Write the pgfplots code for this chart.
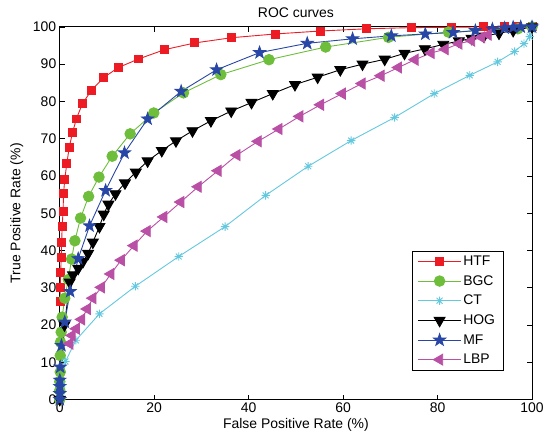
\documentclass[border=0pt]{standalone}
\usepackage{fontspec}
\setmainfont{Liberation Sans}
\usepackage{pgfplots}
\pgfplotsset{compat=1.18}

\definecolor{htf}{RGB}{237,28,36}
\definecolor{bgc}{RGB}{110,190,60}
\definecolor{ct}{RGB}{100,200,222}
\definecolor{mf}{RGB}{40,70,165}
\definecolor{lbp}{RGB}{185,80,165}

% filled five-point star, like MATLAB's pentagram
\pgfdeclareplotmark{fstar}{%
  \pgfpathmoveto{\pgfpointpolar{90}{\pgfplotmarksize}}%
  \pgfpathlineto{\pgfpointpolar{126}{0.4\pgfplotmarksize}}%
  \pgfpathlineto{\pgfpointpolar{162}{\pgfplotmarksize}}%
  \pgfpathlineto{\pgfpointpolar{198}{0.4\pgfplotmarksize}}%
  \pgfpathlineto{\pgfpointpolar{234}{\pgfplotmarksize}}%
  \pgfpathlineto{\pgfpointpolar{270}{0.4\pgfplotmarksize}}%
  \pgfpathlineto{\pgfpointpolar{306}{\pgfplotmarksize}}%
  \pgfpathlineto{\pgfpointpolar{342}{0.4\pgfplotmarksize}}%
  \pgfpathlineto{\pgfpointpolar{18}{\pgfplotmarksize}}%
  \pgfpathlineto{\pgfpointpolar{54}{0.4\pgfplotmarksize}}%
  \pgfpathclose
  \pgfusepathqfillstroke
}
% eight-ray asterisk, like MATLAB's '*'
\pgfdeclareplotmark{star8}{%
  \pgfpathmoveto{\pgfqpoint{-\pgfplotmarksize}{0pt}}\pgfpathlineto{\pgfqpoint{\pgfplotmarksize}{0pt}}%
  \pgfpathmoveto{\pgfqpoint{0pt}{-\pgfplotmarksize}}\pgfpathlineto{\pgfqpoint{0pt}{\pgfplotmarksize}}%
  \pgfpathmoveto{\pgfpointpolar{45}{\pgfplotmarksize}}\pgfpathlineto{\pgfpointpolar{225}{\pgfplotmarksize}}%
  \pgfpathmoveto{\pgfpointpolar{135}{\pgfplotmarksize}}\pgfpathlineto{\pgfpointpolar{315}{\pgfplotmarksize}}%
  \pgfusepathqstroke
}

\newcommand{\lblfont}{\fontsize{14}{16}\selectfont}

\begin{document}
\begin{tikzpicture}
\begin{axis}[
    scale only axis,
    width=474pt, height=374pt,
    xmin=0, xmax=100, ymin=0, ymax=100,
    xtick={0,20,...,100}, ytick={0,10,...,100},
    tick align=inside,
    major tick length=5pt,
    axis line style={line width=1pt},
    every tick/.style={black, line width=0.6pt},
    title={ROC curves},
    title style={font=\lblfont, yshift=0pt},
    xlabel={False Positive Rate (\%)},
    ylabel={True Positive Rate (\%)},
    label style={font=\lblfont},
    xlabel style={yshift=1pt},
    ylabel style={yshift=3pt},
    /pgf/number format/assume math mode=true,
    tick label style={font=\lblfont},
    legend style={at={(0.745,0.078)}, anchor=south west, draw=black, line width=0.6pt,
        font=\lblfont, row sep=4.5pt, inner ysep=3pt, inner xsep=6pt},
    legend cell align=left,
    legend image code/.code={
        \draw[mark repeat=2,mark phase=2] plot coordinates {(0cm,0cm) (0.75cm,0cm) (1.5cm,0cm)};
    },
]
% HTF
\addplot[htf, line width=0.9pt, mark=square*, mark size=4pt, mark options={solid}] coordinates {
(0.1,26.3) (0.1,30.1) (0.2,34.0) (0.3,38.1) (0.4,42.2) (0.5,46.4) (0.7,50.6) (0.8,55.3)
(1.05,59.1) (1.5,63.4) (2.0,67.7) (2.7,71.6) (3.5,75.3) (4.8,79.4) (6.7,83.0) (9.3,86.4)
(12.4,89.1) (16.7,91.4) (22.2,93.9) (28.6,95.7) (36.4,97.1) (45.6,98.1) (55.2,98.9)
(65.0,99.5) (74.5,99.8) (83.0,99.9) (89.7,100) (94.2,100) (97.0,100) (100,100)};
\addlegendentry{HTF}
% BGC
\addplot[bgc, line width=0.9pt, mark=*, mark size=5.3pt] coordinates {
(0,0) (0,2.5) (0,4.8) (0.1,7.4) (0.1,11.8) (0.15,15.4) (0.3,18.1) (0.5,22.1) (1.05,27.2)
(1.8,32.2) (2.5,37.7) (3.2,42.6) (4.4,48.7) (6.1,54.5) (8.3,59.7) (11.1,65.3) (14.9,71.3)
(19.9,76.9) (26.2,82.3) (34.1,87.2) (44.3,91.2) (56.3,94.6) (69.6,97.2) (82.3,98.6)
(97.0,99.5) (100,100)};
\addlegendentry{BGC}
% CT
\addplot[ct, line width=0.9pt, mark=star8, mark size=4.2pt] coordinates {
(0,0) (0.2,1.5) (0.5,4.0) (1.2,10.2) (3.4,15.9) (8.4,23.0) (16.0,30.4) (25.2,38.4)
(35.0,46.4) (43.6,54.8) (52.6,62.6) (61.7,69.5) (70.9,75.7) (79.3,82.1) (86.8,87.0)
(92.7,90.6) (96.3,93.4) (98.3,95.5) (99.5,97.4) (100,99.3) (100,100)};
\addlegendentry{CT}
% HOG
\addplot[black, line width=0.9pt, mark=triangle*, mark size=6.3pt, mark options={rotate=180}] coordinates {
(0,0) (1.0,20.0) (2.1,31.5) (2.8,33.4) (3.9,35.2) (4.9,37.0) (6.0,39.2) (7.0,42.2)
(8.4,46.4) (9.3,49.7) (10.3,52.4) (11.8,55.2) (13.8,58.1) (16.1,61.0) (18.6,64.0)
(21.6,66.8) (24.6,69.4) (28.1,72.1) (32.0,74.8) (36.3,77.4) (40.6,79.7) (45.1,82.1)
(49.8,84.5) (54.6,86.5) (59.4,88.5) (64.1,90.0) (68.8,91.3) (73.0,92.9) (77.3,94.1)
(81.2,95.3) (84.5,96.2) (87.2,96.9) (89.8,97.5) (93.0,98.3) (96.0,99.0) (100,100)};
\addlegendentry{HOG}
% MF
\addplot[mf, line width=0.9pt, mark=fstar, mark size=6.3pt, mark options={fill=mf}] coordinates {
(0,0) (0,1.6) (0,3.5) (0,5.2) (0.1,8.7) (0.35,14.5) (1.05,20.8) (2.2,29.0) (3.9,37.8)
(6.3,46.6) (9.7,56.1) (13.7,66.2) (18.6,75.3) (25.7,82.7) (33.2,88.5) (42.3,93.1)
(52.4,95.6) (62.0,96.8) (70.2,97.6) (77.4,98.1) (83.3,98.5) (88.0,99.0) (91.6,99.4)
(94.2,99.7) (96.0,99.9) (97.6,100) (100,100)};
\addlegendentry{MF}
% LBP
\addplot[lbp, line width=0.9pt, mark=triangle*, mark size=6.3pt, mark options={rotate=90}] coordinates {
(2.1,15.0) (2.6,17.2) (3.5,19.0) (4.6,21.5) (5.8,24.3) (7.0,27.2) (8.8,30.1) (10.8,33.7)
(13.0,37.4) (15.7,41.3) (18.5,45.2) (22.0,49.0) (25.6,53.0) (29.3,57.1) (33.5,61.4)
(37.5,65.6) (42.0,69.3) (46.4,72.6) (50.8,76.0) (55.2,79.1) (59.8,82.1) (64.0,84.8)
(68.0,86.9) (71.7,89.1) (75.2,91.2) (78.6,93.0) (81.6,94.0) (84.5,95.5) (87.2,96.3)
(89.3,97.2) (90.7,97.9)};
\addlegendentry{LBP}
\end{axis}
\path (current axis.south west) ++(-60pt,-41pt);
\path (current axis.north east) ++(13pt,27pt);
\end{tikzpicture}
\end{document}
